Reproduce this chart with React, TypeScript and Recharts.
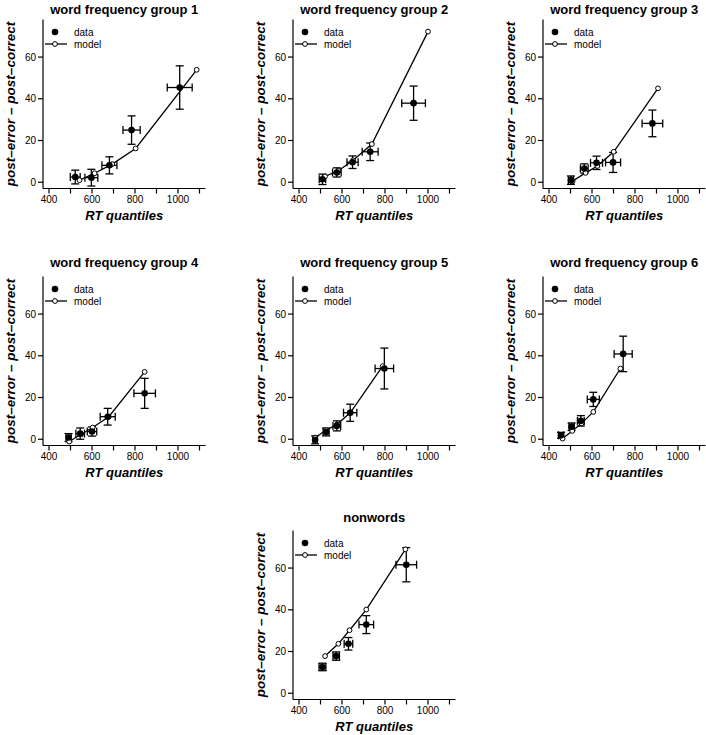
import { ComposedChart, Scatter, XAxis, YAxis, ErrorBar } from "recharts";

const FONT = '"Liberation Sans", Arial, Helvetica, sans-serif';

// shared axes (R style, 4% padding around 400–1100 and 0–75)
const xTicks = [400, 500, 600, 700, 800, 900, 1000, 1100];
const yTicks = [0, 20, 40, 60];
const xDomain = [372, 1128];
const yDomain = [-3, 78];

// word frequency group 1
const g1DataRt = [522, 597, 681, 784, 1008];
const g1DataDiff = [2.5, 2.2, 8.1, 25.0, 45.4];
const g1RtErr = [23, 30, 35, 40, 58];
const g1DiffErr = [3.3, 4.0, 4.1, 6.8, 10.4];
const g1ModelRt = [542, 612, 694, 803, 1087];
const g1ModelDiff = [1.0, 4.3, 8.7, 16.2, 53.9];

// word frequency group 2
const g2DataRt = [509, 576, 649, 731, 933];
const g2DataDiff = [1.4, 4.7, 9.6, 14.6, 37.9];
const g2RtErr = [15, 20, 26, 37, 55];
const g2DiffErr = [2.5, 2.2, 3.0, 4.2, 8.2];
const g2ModelRt = [521, 583, 652, 739, 1000];
const g2ModelDiff = [2.8, 5.5, 10.5, 18.3, 72.2];

// word frequency group 3
const g3DataRt = [502, 564, 621, 698, 881];
const g3DataDiff = [1.0, 6.6, 9.3, 9.5, 28.2];
const g3RtErr = [12, 18, 28, 35, 48];
const g3DiffErr = [2.0, 2.2, 3.2, 4.8, 6.4];
const g3ModelRt = [510, 570, 625, 701, 907];
const g3ModelDiff = [0.6, 4.5, 7.8, 14.6, 45.0];

// word frequency group 4
const g4DataRt = [491, 545, 600, 673, 845];
const g4DataDiff = [0.8, 2.7, 3.7, 10.8, 22.0];
const g4RtErr = [12, 20, 22, 35, 50];
const g4DiffErr = [1.9, 2.7, 2.2, 4.0, 7.2];
const g4ModelRt = [494, 550, 603, 678, 845];
const g4ModelDiff = [-1.1, 2.4, 5.6, 10.8, 32.3];

// word frequency group 5
const g5DataRt = [475, 526, 576, 638, 797];
const g5DataDiff = [-0.3, 3.5, 6.4, 12.7, 33.9];
const g5RtErr = [10, 14, 18, 31, 43];
const g5DiffErr = [1.9, 1.9, 2.4, 4.1, 9.8];
const g5ModelRt = [475, 526, 576, 640, 789];
const g5ModelDiff = [0.8, 4.3, 7.0, 12.9, 35.0];

// word frequency group 6
const g6DataRt = [456, 505, 548, 606, 745];
const g6DataDiff = [1.9, 6.0, 8.8, 19.1, 40.9];
const g6RtErr = [12, 12, 16, 28, 42];
const g6DiffErr = [1.4, 1.8, 2.5, 3.4, 8.5];
const g6ModelRt = [463, 508, 551, 606, 732];
const g6ModelDiff = [0.3, 4.0, 7.6, 13.1, 33.9];

// nonwords
const nwDataRt = [509, 573, 630, 713, 899];
const nwDataDiff = [12.6, 17.8, 23.7, 32.9, 61.6];
const nwRtErr = [16, 15, 20, 34, 48];
const nwDiffErr = [1.8, 2.0, 3.0, 4.3, 8.2];
const nwModelRt = [521, 583, 635, 713, 895];
const nwModelDiff = [17.8, 23.7, 30.2, 40.1, 69.0];

const W = 235;
const H = 235;
const PLOT_LEFT = 43;
const PLOT_TOP = 19.5;
const PLOT_W = 162.5;
const PLOT_H = 169;

const FilledDot = (p: any) => <circle cx={p.cx} cy={p.cy} r={3.3} fill="#000" />;
const OpenDot = (p: any) => (
  <circle cx={p.cx} cy={p.cy} r={2.4} fill="#fff" stroke="#000" strokeWidth={1} />
);

interface PanelProps {
  title: string;
  left: number;
  top: number;
  titleOffset: number;
  dataRt: number[];
  dataDiff: number[];
  rtErr: number[];
  diffErr: number[];
  modelRt: number[];
  modelDiff: number[];
}

const Panel = (props: PanelProps) => {
  const { title, left, top, titleOffset } = props;
  const dataPts = props.dataRt.map((x, i) => ({
    x,
    y: props.dataDiff[i],
    ex: props.rtErr[i],
    ey: props.diffErr[i],
  }));
  const modelPts = props.modelRt.map((x, i) => ({ x, y: props.modelDiff[i] }));

  return (
    <div style={{ position: "absolute", left, top, width: W, height: H }}>
      <ComposedChart
        width={W}
        height={H}
        margin={{
          top: PLOT_TOP,
          left: PLOT_LEFT - 30,
          right: W - PLOT_LEFT - PLOT_W,
          bottom: H - PLOT_TOP - PLOT_H - 30,
        }}
      >
        <XAxis
          type="number"
          dataKey="x"
          domain={xDomain}
          ticks={xTicks}
          interval={0}
          allowDataOverflow
          height={30}
          tickSize={5}
          stroke="#000"
          axisLine={{ stroke: "#000", strokeWidth: 1.2 }}
          tickLine={{ stroke: "#000", strokeWidth: 1.2 }}
          tick={{ fontSize: 10, fill: "#000", fontFamily: FONT }}
          tickFormatter={(v: number) => (v % 200 === 0 ? String(v) : "")}
        />
        <YAxis
          type="number"
          dataKey="y"
          domain={yDomain}
          ticks={yTicks}
          interval={0}
          allowDataOverflow
          width={30}
          tickSize={5}
          stroke="#000"
          axisLine={{ stroke: "#000", strokeWidth: 1.2 }}
          tickLine={{ stroke: "#000", strokeWidth: 1.2 }}
          tick={{ fontSize: 10, fill: "#000", fontFamily: FONT }}
        />
        <Scatter
          data={modelPts}
          line={{ stroke: "#000", strokeWidth: 1.3 }}
          shape={OpenDot}
          isAnimationActive={false}
        />
        <Scatter data={dataPts} shape={FilledDot} isAnimationActive={false}>
          <ErrorBar dataKey="ey" direction="y" width={4} stroke="#000" strokeWidth={1.3} isAnimationActive={false} />
          <ErrorBar dataKey="ex" direction="x" width={4} stroke="#000" strokeWidth={1.3} isAnimationActive={false} />
        </Scatter>
      </ComposedChart>
      <svg
        width={W}
        height={H}
        style={{ position: "absolute", left: 0, top: 0, pointerEvents: "none", overflow: "visible" }}
        fontFamily={FONT}
      >
        <text
          x={PLOT_LEFT + PLOT_W / 2}
          y={PLOT_TOP - titleOffset}
          textAnchor="middle"
          dominantBaseline="central"
          fontSize={13}
          fontWeight="bold"
        >
          {title}
        </text>
        <text
          transform={`translate(10, ${PLOT_TOP + PLOT_H / 2}) rotate(-90)`}
          textAnchor="middle"
          dominantBaseline="central"
          fontSize={13.5}
          fontWeight="bold"
          fontStyle="italic"
        >
          post–error – post–correct
        </text>
        <text
          x={PLOT_LEFT + PLOT_W / 2}
          y={PLOT_TOP + PLOT_H + 26.5}
          textAnchor="middle"
          dominantBaseline="central"
          fontSize={13}
          fontWeight="bold"
          fontStyle="italic"
        >
          RT quantiles
        </text>
        <g transform={`translate(${PLOT_LEFT}, ${PLOT_TOP})`} fontSize={10}>
          <circle cx={12} cy={12.5} r={3.3} fill="#000" />
          <text x={31} y={12.5} dominantBaseline="central">data</text>
          <line x1={2} x2={24} y1={24.5} y2={24.5} stroke="#000" strokeWidth={1.3} />
          <circle cx={12} cy={24.5} r={2.4} fill="#fff" stroke="#000" strokeWidth={1} />
          <text x={31} y={24.5} dominantBaseline="central">model</text>
        </g>
      </svg>
    </div>
  );
}

export default function App() {
  return (
    <div style={{ position: "absolute", left: 0, top: 0, width: 706, height: 735, background: "#fff" }}>
      <Panel title="word frequency group 1" left={0} top={0} titleOffset={10.5}
        dataRt={g1DataRt} dataDiff={g1DataDiff} rtErr={g1RtErr} diffErr={g1DiffErr}
        modelRt={g1ModelRt} modelDiff={g1ModelDiff} />
      <Panel title="word frequency group 2" left={250} top={0} titleOffset={10.5}
        dataRt={g2DataRt} dataDiff={g2DataDiff} rtErr={g2RtErr} diffErr={g2DiffErr}
        modelRt={g2ModelRt} modelDiff={g2ModelDiff} />
      <Panel title="word frequency group 3" left={500} top={0} titleOffset={10.5}
        dataRt={g3DataRt} dataDiff={g3DataDiff} rtErr={g3RtErr} diffErr={g3DiffErr}
        modelRt={g3ModelRt} modelDiff={g3ModelDiff} />
      <Panel title="word frequency group 4" left={0} top={256.5} titleOffset={14}
        dataRt={g4DataRt} dataDiff={g4DataDiff} rtErr={g4RtErr} diffErr={g4DiffErr}
        modelRt={g4ModelRt} modelDiff={g4ModelDiff} />
      <Panel title="word frequency group 5" left={250} top={256.5} titleOffset={14}
        dataRt={g5DataRt} dataDiff={g5DataDiff} rtErr={g5RtErr} diffErr={g5DiffErr}
        modelRt={g5ModelRt} modelDiff={g5ModelDiff} />
      <Panel title="word frequency group 6" left={500} top={256.5} titleOffset={14}
        dataRt={g6DataRt} dataDiff={g6DataDiff} rtErr={g6RtErr} diffErr={g6DiffErr}
        modelRt={g6ModelRt} modelDiff={g6ModelDiff} />
      <Panel title="nonwords" left={250} top={511} titleOffset={13.5}
        dataRt={nwDataRt} dataDiff={nwDataDiff} rtErr={nwRtErr} diffErr={nwDiffErr}
        modelRt={nwModelRt} modelDiff={nwModelDiff} />
    </div>
  );
}
